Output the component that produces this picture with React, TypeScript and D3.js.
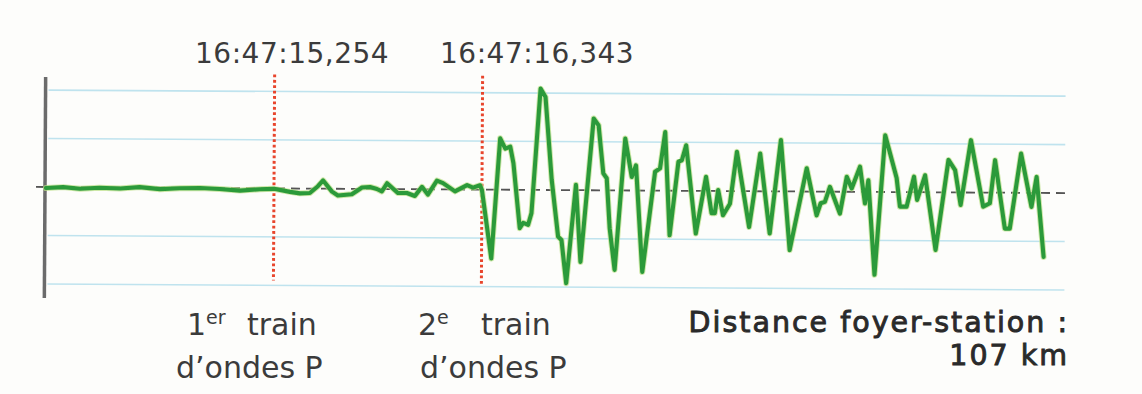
import React from 'react';
import * as d3 from 'd3';

// Time (s, after 16:47:00) and ground-motion amplitude (grid units)
const times = [
  14.060, 14.150, 14.238, 14.340, 14.448, 14.550, 14.657, 14.760, 14.867, 14.970,
  15.076, 15.180, 15.254, 15.338, 15.390, 15.442, 15.484, 15.511, 15.558, 15.589,
  15.662, 15.715, 15.757, 15.793, 15.819, 15.846, 15.903, 15.950, 15.992, 16.029,
  16.060, 16.107, 16.139, 16.202, 16.265, 16.296, 16.333, 16.343, 16.394, 16.437,
  16.464, 16.490, 16.507, 16.542, 16.560, 16.586, 16.603, 16.647, 16.673, 16.708,
  16.743, 16.761, 16.787, 16.835, 16.861, 16.926, 16.952, 16.978, 16.996, 17.013,
  17.040, 17.092, 17.127, 17.149, 17.185, 17.249, 17.275, 17.301, 17.327, 17.371,
  17.389, 17.411, 17.464, 17.516, 17.546, 17.563, 17.580, 17.606, 17.642, 17.677,
  17.743, 17.799, 17.851, 17.907, 17.956, 18.043, 18.096, 18.117, 18.139, 18.165,
  18.218, 18.253, 18.279, 18.322, 18.349, 18.366, 18.401, 18.453, 18.514, 18.532,
  18.567, 18.605, 18.622, 18.663, 18.720, 18.785, 18.820, 18.850, 18.902, 18.968,
  19.003, 19.029, 19.082, 19.108, 19.165, 19.221, 19.247, 19.286,
];
const amplitudes = [
  -0.02, 0.00, -0.03, -0.01, -0.02, 0.01, -0.03, -0.01, 0.00, -0.02,
  -0.05, -0.02, -0.01, -0.07, -0.10, -0.09, 0.05, 0.17, -0.06, -0.14,
  -0.11, 0.03, 0.04, 0.00, -0.05, 0.12, -0.08, -0.08, -0.14, 0.05,
  -0.11, 0.18, 0.13, -0.04, 0.09, 0.04, 0.09, -0.01, -1.42, 1.06,
  0.85, 0.89, 0.55, -0.79, -0.68, -0.72, -0.48, 2.09, 1.92, 0.21,
  -0.96, -1.03, -1.92, 0.11, -1.48, 1.48, 1.34, 0.35, 0.25, -0.78,
  -1.64, 1.07, 0.28, 0.52, -1.68, 0.39, 0.46, 1.21, -0.92, 0.60,
  0.63, 0.94, -0.88, 0.29, -0.46, -0.46, 0.02, -0.50, -0.26, 0.81,
  -0.74, 0.78, -0.87, 1.06, -1.21, 0.48, -0.49, -0.24, -0.21, 0.10,
  -0.45, 0.31, 0.07, 0.52, -0.24, 0.24, -1.71, 1.17, 0.29, -0.30,
  -0.30, 0.32, -0.16, 0.35, -1.19, 0.67, 0.46, -0.26, 1.08, -0.29,
  -0.22, 0.67, -0.74, -0.74, 0.81, -0.29, 0.33, -1.32,
];

const markerTimes = [15.254, 16.343];
const markerLabels = ['16:47:15,254', '16:47:16,343'];
const gridLevels = [-2, -1, 1, 2];
const T_START = 14.055;
const T_END = 19.396;
const A_MIN = -2.29;
const A_MAX = 2.27;

export default function App() {
  const W = 1142;
  const H = 394;
  const x = d3.scaleLinear().domain([T_START, T_END]).range([45, 1065]);
  const y = d3.scaleLinear().domain([A_MIN, A_MAX]).range([298, 77]);

  const pts = times.map((t, i) => [t, amplitudes[i]] as [number, number]);
  const line = d3
    .line<[number, number]>()
    .x((d) => x(d[0]))
    .y((d) => y(d[1]))
    .curve(d3.curveLinear);
  const path = line(pts) || '';

  const font = '"DejaVu Sans", sans-serif';

  return (
    <svg
      width={W}
      height={H}
      viewBox={`0 0 ${W} ${H}`}
      style={{ position: 'absolute', left: 0, top: 0, background: '#fdfdfb' }}
    >
      <g transform={`rotate(0.34 45 ${y(0)})`}>
        {gridLevels.map((g) => (
          <line
            key={g}
            x1={x(T_START) + 3}
            x2={x(T_END)}
            y1={y(g)}
            y2={y(g)}
            stroke="#bfe3ee"
            strokeWidth={1.6}
          />
        ))}
        <line
          x1={x(T_START) - 9}
          x2={x(T_END)}
          y1={y(0)}
          y2={y(0)}
          stroke="#555"
          strokeWidth={1.8}
          strokeDasharray="9 6"
        />
        <line
          x1={x(T_START)}
          x2={x(T_START)}
          y1={y(A_MAX)}
          y2={y(A_MIN)}
          stroke="#6b6b6b"
          strokeWidth={3.5}
        />
        {markerTimes.map((t, i) => (
          <line
            key={t}
            x1={x(t)}
            x2={x(t)}
            y1={y(2.35)}
            y2={y(i === 0 ? -1.9 : -1.95)}
            stroke="#e8452c"
            strokeWidth={3}
            strokeDasharray="2.8 2.6"
          />
        ))}
        <path d={path} fill="none" stroke="#b9de84" strokeWidth={6} strokeLinejoin="round" strokeLinecap="round" opacity={0.7} />
        <path d={path} fill="none" stroke="#2b9a3a" strokeWidth={4.1} strokeLinejoin="round" strokeLinecap="round" />
      </g>

      {markerLabels.map((lab, i) => (
        <text
          key={lab}
          x={i === 0 ? 195 : 440}
          y={63}
          fontFamily={font}
          fontSize={28}
          letterSpacing={0.5}
          fill="#3b3b3b"
        >
          {lab}
        </text>
      ))}

      <g fontFamily={font} fontSize={30} fill="#3b3b3b">
        <text x={187} y={335}>
          1<tspan fontSize={19} dy={-11}>er</tspan>
          <tspan x={247} dy={11}>train</tspan>
        </text>
        <text x={176} y={378}>d’ondes P</text>
        <text x={418} y={335}>
          2<tspan fontSize={19} dy={-11}>e</tspan>
          <tspan x={481} dy={11}>train</tspan>
        </text>
        <text x={420} y={378}>d’ondes P</text>
      </g>

      <g
        fontFamily={font}
        fontSize={28.5}
        fill="#2a2a2a"
        stroke="#2a2a2a"
        strokeWidth={0.9}
        letterSpacing={2}
        textAnchor="end"
      >
        <text x={1069} y={332}>Distance foyer-station :</text>
        <text x={1069} y={365}>107 km</text>
      </g>
    </svg>
  );
}
